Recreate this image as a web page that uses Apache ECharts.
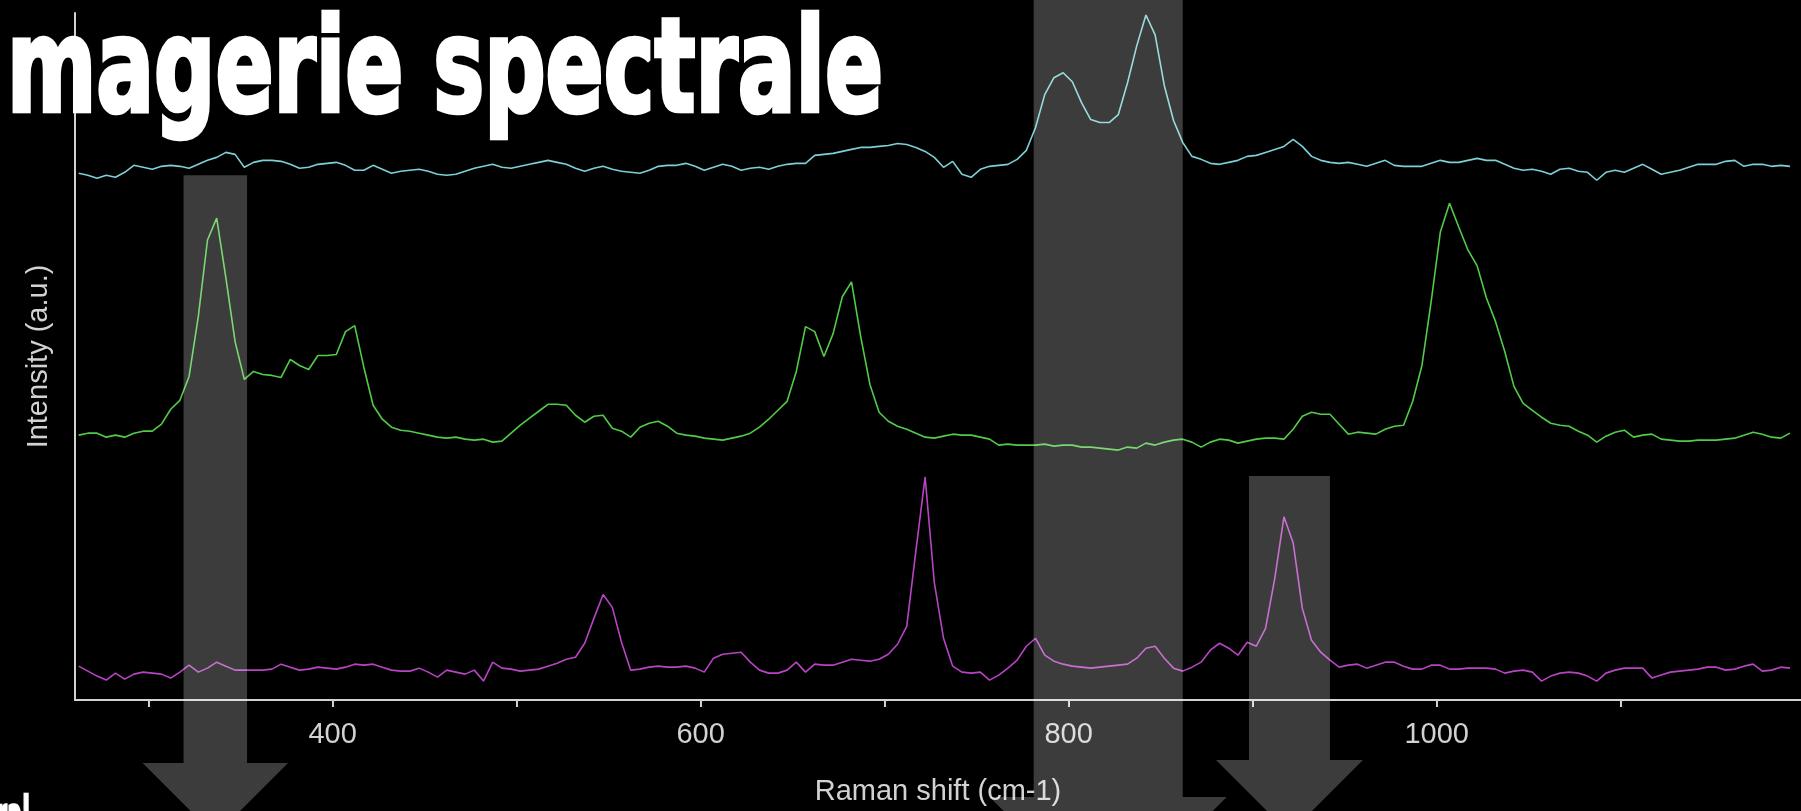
<!DOCTYPE html>
<html>
<head>
<meta charset="utf-8">
<title>Imagerie spectrale</title>
<script src="https://cdn.jsdelivr.net/npm/echarts@6/dist/echarts.min.js"></script>
<style>
  html, body { margin: 0; padding: 0; background: #000; }
  #chart { width: 1801px; height: 811px; }
</style>
</head>
<body>
<div id="chart"></div>
<script>
// Raman shift sampling (cm-1)
const ramanShift = [
  262, 267, 272, 277, 282, 287, 292, 297, 302, 307,
  312, 317, 322, 327, 332, 337, 342, 347, 352, 357,
  362, 367, 372, 377, 382, 387, 392, 397, 402, 407,
  412, 417, 422, 427, 432, 437, 442, 447, 452, 457,
  462, 467, 472, 477, 482, 487, 492, 497, 502, 507,
  512, 517, 522, 527, 532, 537, 542, 547, 552, 557,
  562, 567, 572, 577, 582, 587, 592, 597, 602, 607,
  612, 617, 622, 627, 632, 637, 642, 647, 652, 657,
  662, 667, 672, 677, 682, 687, 692, 697, 702, 707,
  712, 717, 722, 727, 732, 737, 742, 747, 752, 757,
  762, 767, 772, 777, 782, 787, 792, 797, 802, 807,
  812, 817, 822, 827, 832, 837, 842, 847, 852, 857,
  862, 867, 872, 877, 882, 887, 892, 897, 902, 907,
  912, 917, 922, 927, 932, 937, 942, 947, 952, 957,
  962, 967, 972, 977, 982, 987, 992, 997, 1002, 1007,
  1012, 1017, 1022, 1027, 1032, 1037, 1042, 1047, 1052, 1057,
  1062, 1067, 1072, 1077, 1082, 1087, 1092, 1097, 1102, 1107,
  1112, 1117, 1122, 1127, 1132, 1137, 1142, 1147, 1152, 1157,
  1162, 1167, 1172, 1177, 1182, 1187, 1192
];

// intensities (a.u.), spectra are stacked with an offset
const cyanSpectrum = [
  529, 527, 524, 527, 525, 530, 537, 535, 533, 536,
  537, 536, 534, 538, 542, 545, 550, 548, 535, 540,
  542, 542, 541, 538, 534, 535, 538, 539, 540, 537,
  532, 532, 537, 533, 529, 531, 532, 533, 531, 528,
  527, 528, 531, 534, 536, 538, 535, 534, 536, 538,
  540, 542, 540, 538, 534, 531, 534, 536, 533, 531,
  530, 529, 532, 536, 537, 537, 539, 536, 532, 535,
  538, 536, 532, 534, 535, 533, 536, 538, 539, 539,
  547, 548, 549, 551, 553, 555, 555, 556, 557, 559,
  558, 555, 551, 545, 535, 541, 528, 525, 533, 536,
  537, 538, 543, 552, 575, 608, 625, 630, 621, 600,
  583, 580, 580, 588, 620, 657, 688, 668, 617, 582,
  560, 546, 543, 539, 538, 540, 542, 546, 547, 550,
  553, 556, 563, 556, 546, 542, 540, 539, 540, 538,
  536, 539, 542, 537, 536, 536, 536, 539, 542, 540,
  540, 542, 544, 542, 542, 538, 534, 532, 533, 531,
  528, 533, 534, 531, 530, 522, 530, 532, 530, 534,
  538, 533, 528, 530, 532, 535, 538, 538, 538, 541,
  542, 536, 538, 538, 536, 537, 536
];

const greenSpectrum = [
  266, 268, 268, 264, 266, 264, 268, 270, 270, 277,
  292, 301, 325, 385, 462, 484, 424, 360, 322, 330,
  327, 326, 324, 342, 336, 332, 346, 346, 347, 370,
  376, 334, 296, 282, 274, 271, 270, 268, 266, 264,
  263, 264, 262, 261, 262, 259, 260, 268, 276, 283,
  290, 297, 297, 296, 286, 279, 285, 286, 273, 270,
  264, 274, 278, 280, 275, 268, 266, 265, 263, 262,
  261, 263, 265, 268, 274, 282, 291, 300, 330, 375,
  370, 345, 368, 405, 420, 365, 317, 289, 280, 275,
  272, 268, 264, 263, 265, 267, 266, 266, 264, 262,
  256, 257, 256, 256, 256, 257, 255, 256, 256, 254,
  254, 253, 252, 251, 254, 253, 258, 256, 259, 261,
  262, 259, 254, 259, 262, 261, 258, 260, 262, 263,
  263, 262, 272, 285, 289, 287, 287, 277, 267, 269,
  268, 267, 272, 275, 276, 300, 336, 400, 470, 499,
  475, 452, 436, 404, 380, 350, 315, 298, 291, 284,
  278, 276, 275, 270, 266, 259, 265, 269, 271, 264,
  266, 267, 262, 261, 260, 260, 261, 261, 261, 262,
  263, 266, 269, 267, 264, 263, 268
];

const magentaSpectrum = [
  34, 29, 24, 20, 27, 21, 26, 28, 27, 26,
  22, 28, 35, 28, 32, 38, 34, 30, 30, 30,
  30, 31, 36, 33, 30, 31, 33, 32, 31, 33,
  36, 35, 36, 33, 30, 29, 29, 32, 28, 23,
  30, 28, 26, 30, 19, 38, 32, 31, 29, 30,
  31, 34, 37, 41, 43, 57, 82, 106, 93, 58,
  30, 31, 33, 34, 33, 33, 34, 32, 28, 42,
  46, 47, 48, 38, 30, 27, 27, 30, 38, 28,
  36, 35, 35, 38, 41, 40, 39, 41, 46, 56,
  74, 150, 224, 118, 62, 34, 28, 27, 28, 20,
  25, 32, 40, 54, 62, 45, 39, 36, 34, 33,
  32, 33, 34, 35, 36, 42, 52, 54, 42, 32,
  29, 33, 38, 50, 57, 52, 45, 58, 54, 72,
  122, 184, 158, 92, 60, 48, 40, 33, 35, 36,
  32, 35, 38, 38, 34, 31, 31, 35, 35, 31,
  31, 32, 32, 32, 31, 27, 29, 30, 28, 19,
  24, 27, 28, 27, 24, 19, 27, 30, 32, 32,
  32, 22, 25, 28, 29, 30, 31, 33, 33, 30,
  31, 34, 36, 29, 30, 33, 32
];

const tickValues = [300, 400, 500, 600, 700, 800, 900, 1000, 1100];
const labelValues = [400, 600, 800, 1000];

// highlighted bands: range in cm-1 and the intensity where the bar starts
const bandFrom = [319, 781, 898];
const bandTo = [353.5, 862, 942];
const bandTop = [527, 703, 225];

const axisColor = '#d2d2d2';
const bandFill = 'rgba(255,255,255,0.235)';

const chart = echarts.init(document.getElementById('chart'));

function toPairs(values) {
  return ramanShift.map((x, i) => [x, values[i]]);
}

function spectrum(name, values, color) {
  return {
    name: name,
    type: 'line',
    data: toPairs(values),
    symbol: 'none',
    showSymbol: false,
    lineStyle: { color: color, width: 1.6 },
    itemStyle: { color: color },
    emphasis: { disabled: true }
  };
}

chart.setOption({
  backgroundColor: '#000',
  animation: false,
  grid: { left: 75, right: 0, top: 13, bottom: 108 },
  xAxis: {
    type: 'value',
    min: 260,
    max: 1198,
    name: 'Raman shift (cm-1)',
    nameLocation: 'middle',
    nameGap: 77,
    nameTextStyle: { color: axisColor, fontSize: 29, fontFamily: 'Liberation Sans' },
    axisLine: { lineStyle: { color: axisColor, width: 2 } },
    axisTick: { customValues: tickValues, length: 7, lineStyle: { color: axisColor, width: 2 } },
    axisLabel: {
      customValues: labelValues,
      formatter: (v) => String(v),
      color: axisColor,
      fontSize: 29,
      fontFamily: 'Liberation Sans',
      margin: 20
    },
    splitLine: { show: false }
  },
  yAxis: {
    type: 'value',
    min: 0,
    max: 690,
    name: 'Intensity (a.u.)',
    nameLocation: 'middle',
    nameGap: 22,
    nameTextStyle: { color: axisColor, fontSize: 29, fontFamily: 'Liberation Sans' },
    axisLine: { show: true, lineStyle: { color: axisColor, width: 2 } },
    axisTick: { show: false },
    axisLabel: { show: false },
    splitLine: { show: false }
  },
  series: [
    spectrum('cyan', cyanSpectrum, '#7cd0d6'),
    spectrum('green', greenSpectrum, '#52cc48'),
    spectrum('magenta', magentaSpectrum, '#b844c4')
  ]
});

// arrows over the bands, placed through the axes
const headDrop = [63, 97, 60];
const headOver = [41, 44, 33];
const axisY = chart.convertToPixel({ gridIndex: 0 }, [260, 0])[1];
const graphics = [];
bandFrom.forEach((from, i) => {
  const x0 = chart.convertToPixel({ gridIndex: 0 }, [from, 0])[0];
  const x1 = chart.convertToPixel({ gridIndex: 0 }, [bandTo[i], 0])[0];
  const top = Math.max(0, chart.convertToPixel({ gridIndex: 0 }, [from, bandTop[i]])[1]);
  const hy = axisY + headDrop[i];
  const half = (x1 - x0) / 2 + headOver[i];
  graphics.push({
    type: 'polygon',
    z: 100,
    silent: true,
    shape: {
      points: [
        [x0, top], [x1, top], [x1, hy], [x1 + headOver[i], hy],
        [(x0 + x1) / 2, hy + half], [x0 - headOver[i], hy], [x0, hy]
      ]
    },
    style: { fill: bandFill }
  });
});

// big title, squeezed and thickened like a condensed display face
const titleText = 'magerie spectrale';
const titleFont = 'bold 100px "DejaVu Sans"';
const ctx = document.createElement('canvas').getContext('2d');
ctx.font = titleFont;
const titleWidth = ctx.measureText(titleText).width;
graphics.push({
  type: 'text',
  z: 200,
  silent: true,
  x: 7,
  y: 11,
  scaleX: 876 / titleWidth,
  scaleY: 1.31,
  style: {
    text: titleText, font: titleFont, fill: '#ffffff',
    stroke: '#ffffff', lineWidth: 3.5,
    align: 'left', verticalAlign: 'top'
  }
});
ctx.font = 'bold 40px "DejaVu Sans"';
const tailWidth = ctx.measureText('ral').width;
graphics.push({
  type: 'text',
  z: 200,
  silent: true,
  x: 30,
  y: 793,
  scaleX: 34 / tailWidth,
  scaleY: 1.3,
  style: {
    text: 'ral', font: 'bold 40px "DejaVu Sans"', fill: '#ffffff',
    stroke: '#ffffff', lineWidth: 2, align: 'right', verticalAlign: 'top'
  }
});

chart.setOption({ graphic: graphics });
</script>
</body>
</html>
